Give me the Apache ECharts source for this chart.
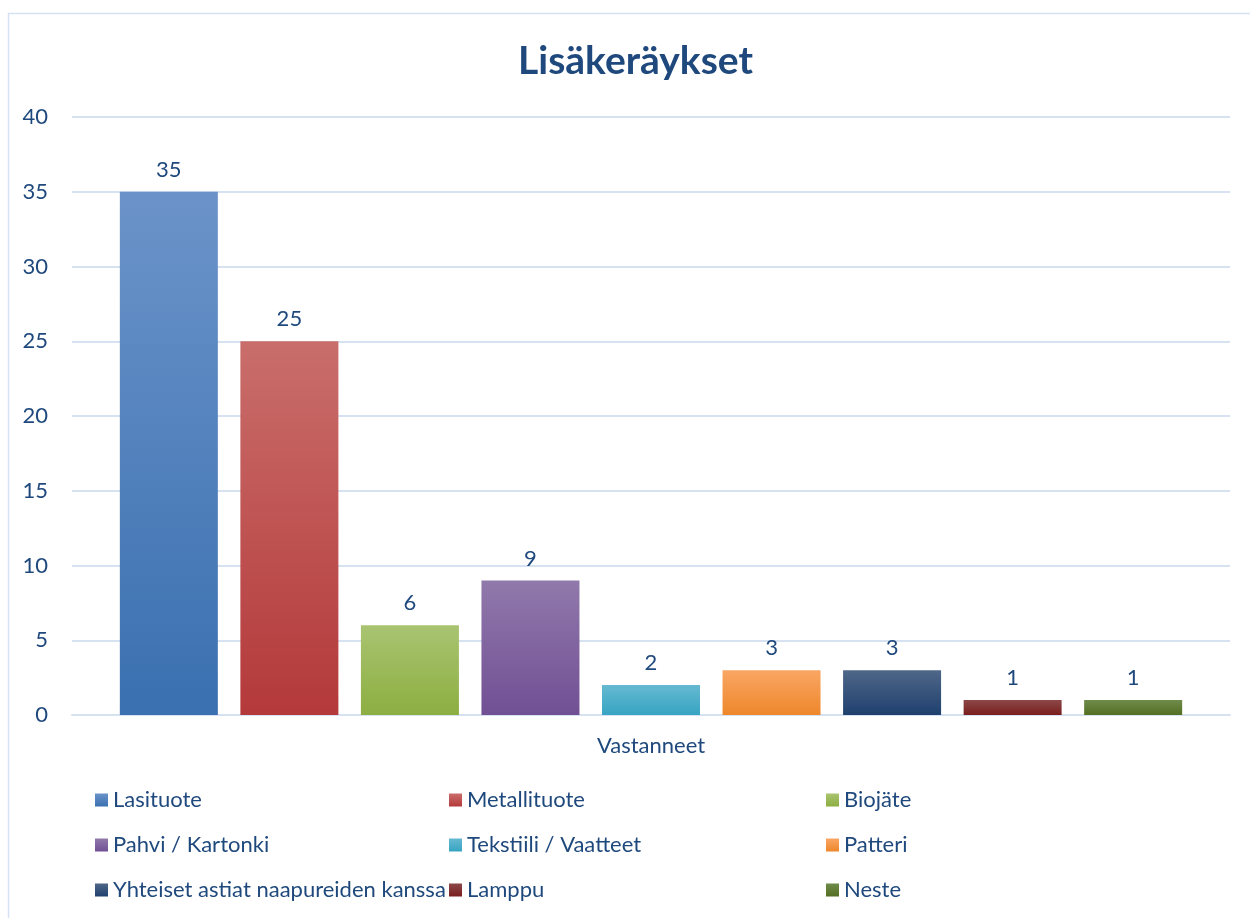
<!DOCTYPE html>
<html>
<head>
<meta charset="utf-8">
<script src="https://cdn.jsdelivr.net/npm/echarts@6/dist/echarts.min.js"></script>
<style>
  html, body { margin: 0; padding: 0; background: #fff; }
  #content { width: 1250px; height: 918px; }
</style>
</head>
<body>
<div id="content"></div>
<script>
// data
var categories = ["Vastanneet"];
var names = ["Lasituote", "Metallituote", "Biojäte", "Pahvi / Kartonki", "Tekstiili / Vaatteet",
    "Patteri", "Yhteiset astiat naapureiden kanssa", "Lamppu", "Neste"];
var values = [35, 25, 6, 9, 2, 3, 3, 1, 1];
var yTicks = [0, 5, 10, 15, 20, 25, 30, 35, 40];

// gradient colors (top, bottom)
var topColors = ["#6b93c9", "#c96e6b", "#a9c471", "#9079ab", "#66b9d1", "#f9a664", "#4f6788", "#8c4848", "#6f8b4b"];
var bottomColors = ["#3a70b0", "#b4393a", "#8cae41", "#714f94", "#36a4c2", "#ee872b", "#1f406e", "#7a1e1e", "#546f22"];

var textColor = "#1f497d";
var fontName = "Lato";

var series = [];
for (let i = 0; i < names.length; i++) {
    series.push({
        name: names[i],
        type: "bar",
        data: [values[i]],
        barWidth: 98,
        barGap: "23%",
        itemStyle: {
            color: new echarts.graphic.LinearGradient(0, 0, 0, 1, [
                { offset: 0, color: topColors[i] },
                { offset: 1, color: bottomColors[i] },
            ]),
        },
        label: {
            show: true,
            position: "top",
            distance: 11,
            color: textColor,
            fontSize: 22,
            fontFamily: fontName,
        },
    });
}

// legend in 3 columns
var legendCols = [
    [names[0], names[3], names[6]],
    [names[1], names[4], names[7]],
    [names[2], names[5], names[8]],
];
var legendLeft = [95, 449, 826];
var legends = legendCols.map(function(col, k) {
    return {
        data: col,
        orient: "vertical",
        left: legendLeft[k],
        top: 788,
        padding: 0,
        itemWidth: 13,
        itemHeight: 13,
        itemGap: 21,
        icon: "rect",
        textStyle: { color: textColor, fontSize: 22, lineHeight: 24, fontFamily: fontName },
    };
});

var myChart = echarts.init(document.getElementById("content"));
myChart.setOption({
    animation: false,
    title: {
        text: "Lisäkeräykset",
        left: 518,
        top: 42,
        padding: 0,
        textStyle: { color: textColor, fontSize: 39, fontWeight: "bold", fontFamily: fontName },
    },
    graphic: [{
        type: "rect",
        shape: { x: 8.5, y: 13.5, width: 1260, height: 920 },
        style: { fill: "none", stroke: "#d6e2f2", lineWidth: 1.5 },
        silent: true,
    }],
    legend: legends,
    grid: { left: 72, right: 20, top: 117, bottom: 203 },
    xAxis: {
        type: "category",
        data: categories,
        axisTick: { show: false },
        axisLine: { lineStyle: { color: "#d6e2f2", width: 2 } },
        axisLabel: { color: textColor, fontSize: 22, fontFamily: fontName, margin: 20 },
    },
    yAxis: {
        type: "value",
        min: yTicks[0],
        max: yTicks[yTicks.length - 1],
        interval: 5,
        axisLine: { show: false },
        axisTick: { show: false },
        splitLine: { lineStyle: { color: "#d6e2f2", width: 2 } },
        axisLabel: { color: textColor, fontSize: 22, fontFamily: fontName, margin: 24 },
    },
    series: series,
});
</script>
</body>
</html>
